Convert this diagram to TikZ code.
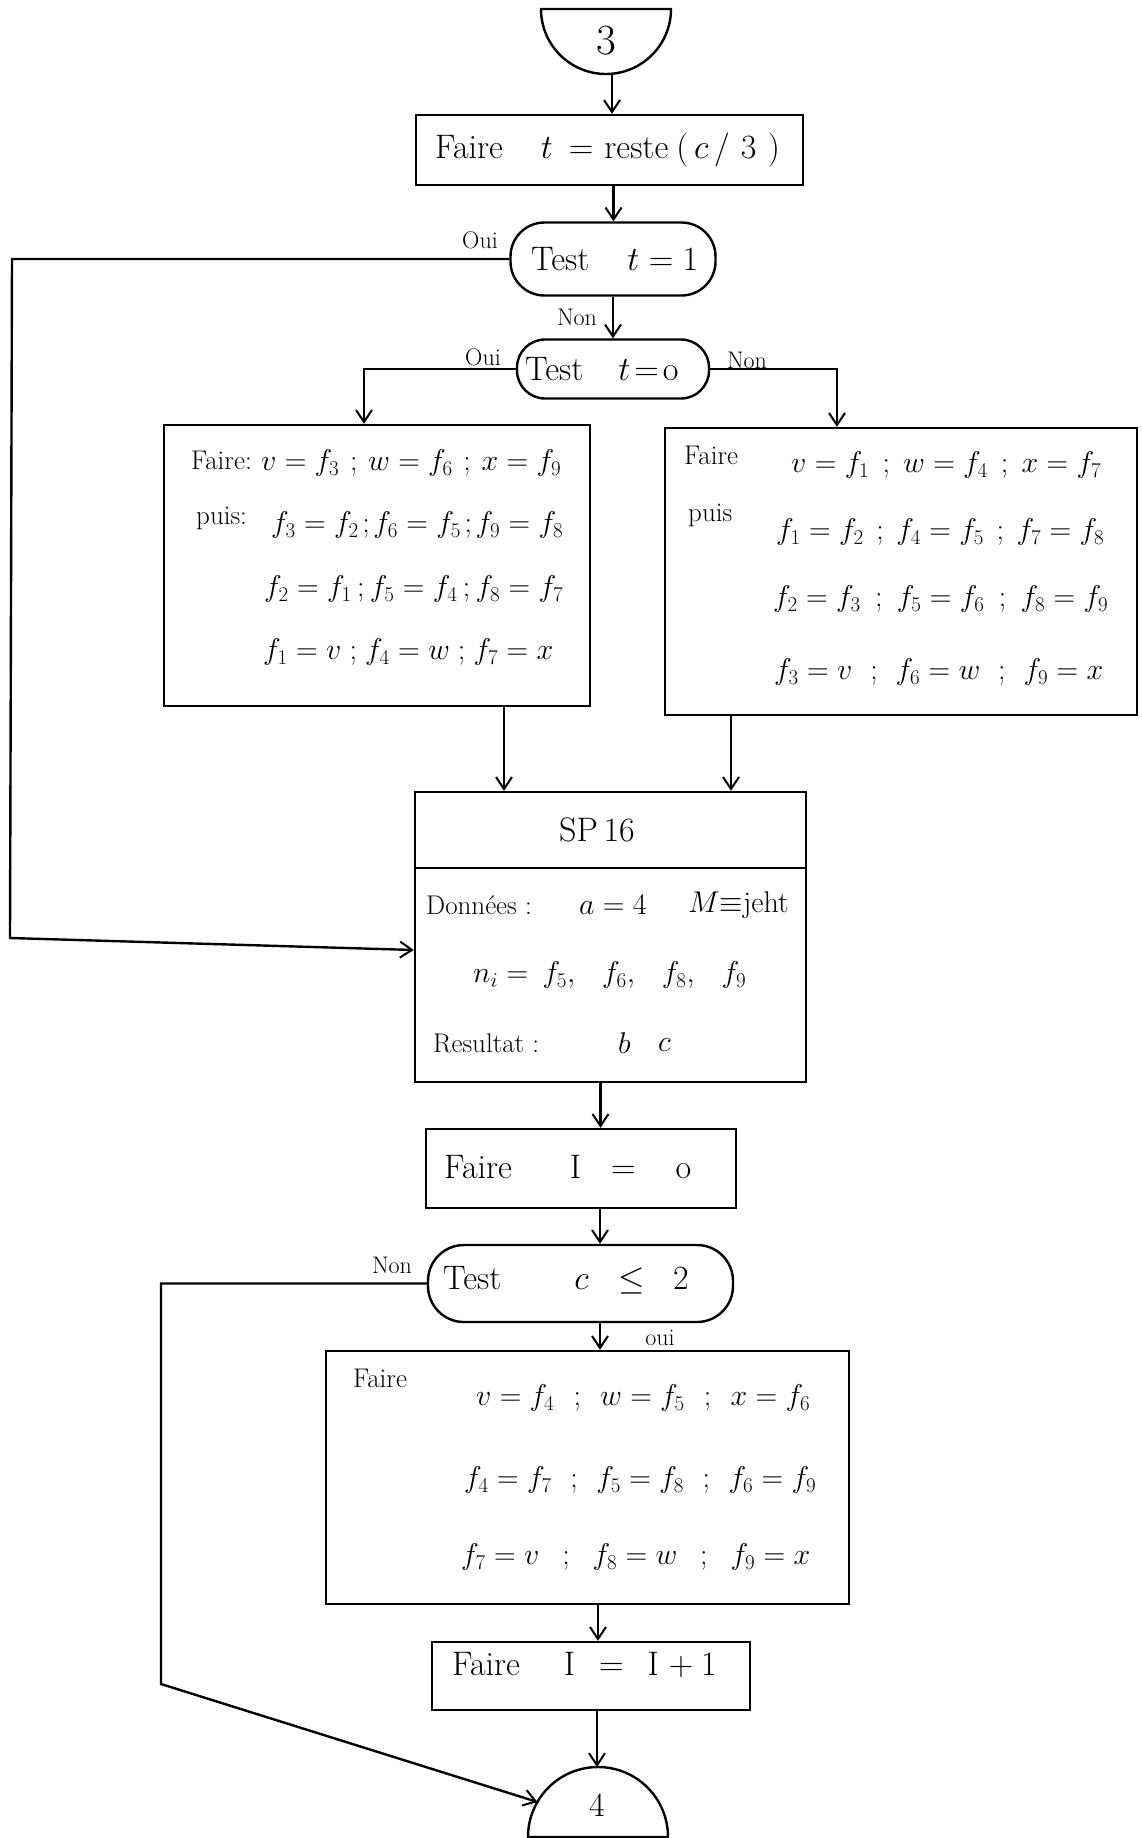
\RequirePackage{fix-cm}
\documentclass[tikz,border=0pt]{standalone}
\usetikzlibrary{arrows.meta}
\newcommand\szbig{\fontsize{34}{40}\selectfont}
\newcommand\szmid{\fontsize{30}{36}\selectfont}
\newcommand\szsm{\fontsize{27}{32}\selectfont}
\newcommand\szlab{\fontsize{24}{28}\selectfont}
\newcommand\sznum{\fontsize{43}{50}\selectfont}
\newcommand\eqrow[4]{\makebox[#1]{$#2$\hfill;\hfill$#3$\hfill;\hfill$#4$}}
\begin{document}
\begin{tikzpicture}[x=1pt,y=-1pt,line width=2.4pt,
  boxnode/.style={draw,rectangle,inner sep=0pt},
  testnode/.style={draw,rectangle,inner sep=0pt},
  arr/.style={-{Straight Barb[length=12pt,width=16pt,line width=2pt]}},
  lab/.style={font=\szlab,inner sep=0pt},
  txt/.style={font=\szbig,inner sep=0pt,anchor=west},
  ftxt/.style={font=\szmid,inner sep=0pt,anchor=west},
  wtxt/.style={font=\szsm,inner sep=0pt,anchor=west}]
\useasboundingbox (0,0) rectangle (1141,1838);

% connector 3
\draw (541,9) arc[start angle=180,end angle=360,radius=65pt] -- cycle;
\node[font=\sznum,inner sep=0pt] (c3) at (606,41) {3};
\coordinate (c3b) at (612,74);

% box 1
\node[boxnode,minimum width=387pt,minimum height=70pt] (b1) at (609.5,150) {};
\node[txt] (b1t) at (434,150) {Faire\hspace{38pt}$t$\hspace{16pt}=\hspace{11pt}reste\hspace{8pt}(\,$c$\,/\,\,3\,\,)};

% test t=1
\node[testnode,rounded corners=34pt,minimum width=205pt,minimum height=73pt] (t1) at (613,259) {};
\node[txt] (t1t) at (530,259) {Test\hspace{38pt}$t = 1$};

% test t=0
\node[testnode,rounded corners=28pt,minimum width=192pt,minimum height=59pt] (t0) at (613,369) {};
\node[txt] (t0t) at (524,369) {Test\hspace{35pt}$t$\hspace{4pt}=\hspace{4pt}o};

% left box
\node[boxnode,minimum width=426pt,minimum height=281pt] (lb) at (377,565.5) {};
\node[wtxt] (lb1a) at (190,460) {Faire:};
\node[ftxt] (lb1) at (260,463) {\eqrow{300pt}{v = f_3}{w = f_6}{x = f_9}};
\node[wtxt] (lb2a) at (195,518) {puis:};
\node[ftxt] (lb2) at (270,525) {\eqrow{292pt}{f_3 = f_2}{f_6 = f_5}{f_9 = f_8}};
\node[ftxt] (lb3) at (263,589) {\eqrow{299pt}{f_2 = f_1}{f_5 = f_4}{f_8 = f_7}};
\node[ftxt] (lb4) at (262,652) {\eqrow{290pt}{f_1 = v}{f_4 = w}{f_7 = x}};

% right box
\node[boxnode,minimum width=472pt,minimum height=287pt] (rb) at (901,571.5) {};
\node[wtxt] (rb1a) at (683,455) {Faire};
\node[ftxt] (rb1) at (790,465) {\eqrow{310pt}{v = f_1}{w = f_4}{x = f_7}};
\node[wtxt] (rb2a) at (687,515) {puis};
\node[ftxt] (rb2) at (775,532) {\eqrow{328pt}{f_1 = f_2}{f_4 = f_5}{f_7 = f_8}};
\node[ftxt] (rb3) at (772,599) {\eqrow{335pt}{f_2 = f_3}{f_5 = f_6}{f_8 = f_9}};
\node[ftxt] (rb4) at (773,672) {\eqrow{329pt}{f_3 = v}{f_6 = w}{f_9 = x}};

% SP16
\node[boxnode,minimum width=391pt,minimum height=290pt] (sp) at (610.5,937) {};
\draw (sp.west |- 0,868) -- (sp.east |- 0,868);
\node[font=\szbig,inner sep=0pt] (spt) at (597,830) {SP\,16};
\node[wtxt] (sp1a) at (425,905) {Données :};
\node[ftxt] (sp1b) at (578,905) {$a = 4$};
\node[ftxt] (sp1c) at (687,905) {$M{\equiv}$jeht};
\node[ftxt] (sp2) at (472,975) {\makebox[273pt]{$n_i = {}$\hspace{6pt}$f_5,$\hfill$f_6,$\hfill$f_8,$\hfill$f_9$}};
\node[wtxt] (sp3a) at (432,1043) {Resultat :};
\node[ftxt] (sp3b) at (617,1043) {$b$};
\node[ftxt] (sp3c) at (657,1045) {$c$};

% Faire I = o
\node[boxnode,minimum width=310pt,minimum height=79pt] (fi0) at (581,1168.5) {};
\node[txt] (fi0t) at (443,1167) {Faire\hspace{58pt}I\hspace{30pt}=\hspace{40pt}o};

% test c <= 2
\node[testnode,rounded corners=36pt,minimum width=305pt,minimum height=77pt] (tc) at (580.5,1283.5) {};
\node[txt] (tct) at (442,1280) {Test\hspace{73pt}$c$\hspace{30pt}$\leq$\hspace{28pt}2};

% Faire box
\node[boxnode,minimum width=523pt,minimum height=253pt] (fb) at (587.5,1477.5) {};
\node[wtxt] (fb0) at (352,1378) {Faire};
\node[ftxt] (fb1) at (475,1398) {\eqrow{334pt}{v = f_4}{w = f_5}{x = f_6}};
\node[ftxt] (fb2) at (463,1480) {\eqrow{352pt}{f_4 = f_7}{f_5 = f_8}{f_6 = f_9}};
\node[ftxt] (fb3) at (460,1557) {\eqrow{349pt}{f_7 = v}{f_8 = w}{f_9 = x}};

% Faire I = I + 1
\node[boxnode,minimum width=318pt,minimum height=68pt] (fi1) at (591,1676) {};
\node[txt] (fi1t) at (451,1665) {Faire\hspace{44pt}I\hspace{24pt}=\hspace{24pt}I\hspace{10pt}+\hspace{8pt}1};

% connector 4
\draw (528,1837) arc[start angle=180,end angle=0,radius=70pt] -- cycle;
\node[font=\szbig,inner sep=0pt] (c4) at (597,1805) {4};
\coordinate (c4t) at (597,1767);
\coordinate (c4l) at (537.5,1802);

% connectors
\draw[arr] (c3b) -- (c3b |- b1.north);
\coordinate (a1) at ([xshift=4pt]b1.south);
\draw[arr] (a1) -- (a1 |- t1.north);
\draw[arr] (t1.south) -- (t0.north);
\draw[arr] (t1.west) -- (12,259) -- (10,938) -- ([yshift=-13pt]sp.west);
\draw[arr] (t0.west) -| ([xshift=-13pt]lb.north);
\draw[arr] (t0.east) -| ([xshift=-64pt]rb.north);
\coordinate (a3) at ([xshift=127pt]lb.south);
\draw[arr] (a3) -- (a3 |- sp.north);
\coordinate (a4) at ([xshift=-170pt]rb.south);
\draw[arr] (a4) -- (a4 |- sp.north);
\coordinate (a5) at ([xshift=-10pt]sp.south);
\draw[arr] (a5) -- (a5 |- fi0.north);
\coordinate (a6) at ([xshift=19pt]fi0.south);
\draw[arr] (a6) -- (a6 |- tc.north);
\coordinate (a7) at ([xshift=19.5pt]tc.south);
\draw[arr] (a7) -- (a7 |- fb.north);
\coordinate (a8) at ([xshift=10.5pt]fb.south);
\draw[arr] (a8) -- (a8 |- fi1.north);
\coordinate (a9) at ([xshift=6pt]fi1.south);
\draw[arr] (a9) -- (c4t);
\draw[arr] (tc.west) -- (161,1283.5) -- (161,1684) -- (c4l);

% labels
\node[lab] (l1) at (480,240) {Oui};
\node[lab] (l2) at (577,317) {Non};
\node[lab] (l3) at (483,357) {Oui};
\node[lab] (l4) at (747,360) {Non};
\node[lab] (l5) at (392,1265) {Non};
\node[lab] (l6) at (660,1338) {oui};
\end{tikzpicture}
\end{document}
